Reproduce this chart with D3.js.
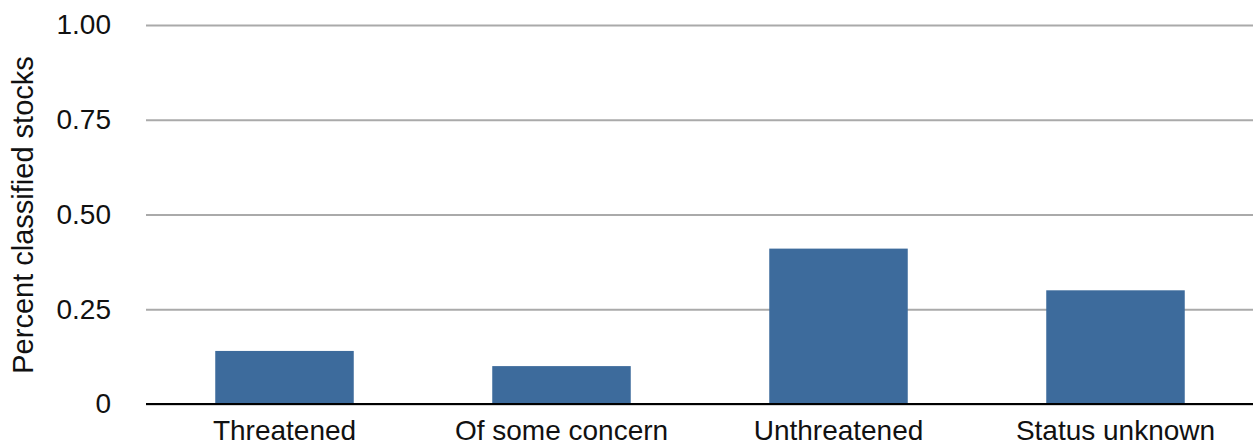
<!DOCTYPE html>
<html>
<head>
<meta charset="utf-8">
<script src="https://cdn.jsdelivr.net/npm/d3@7"></script>
<style>
  html, body { margin: 0; padding: 0; background: #fff; }
  svg text { font-family: "Liberation Sans", Arial, Helvetica, sans-serif; fill: #111; }
</style>
</head>
<body>
<svg id="chart" width="1253" height="446"></svg>
<script>
// Share of classified stocks by status
const categories = ["Threatened", "Of some concern", "Unthreatened", "Status unknown"];
const shares = [0.14, 0.10, 0.41, 0.30];
const tickValues = [0, 0.25, 0.5, 0.75, 1.0];
const tickLabels = ["0", "0.25", "0.50", "0.75", "1.00"];

const svg = d3.select("#chart");
const margin = { left: 146, right: 0 };
const W = 1253;

const x = d3.scaleBand()
  .domain(categories)
  .range([margin.left, W - margin.right + 1])
  .paddingInner(0.5)
  .paddingOuter(0.25);

const y = d3.scaleLinear()
  .domain([0, 1])
  .range([404, 25]);

// horizontal grid lines with tick labels
const yAxis = d3.axisLeft(y)
  .tickValues(tickValues)
  .tickFormat((d, i) => tickLabels[i])
  .tickSize(-(W - margin.left))
  .tickPadding(35);

const gy = svg.append("g")
  .attr("transform", `translate(${margin.left},0)`)
  .call(yAxis);
gy.select(".domain").remove();
gy.selectAll(".tick line").attr("stroke", "#aaa").attr("stroke-width", 2);
gy.selectAll(".tick text")
  .attr("font-size", 28)
  .attr("fill", "#111");

// bars
svg.append("g")
  .selectAll("rect")
  .data(categories)
  .join("rect")
  .attr("x", d => x(d))
  .attr("width", x.bandwidth())
  .attr("y", (d, i) => y(shares[i]))
  .attr("height", (d, i) => y(0) - y(shares[i]))
  .attr("fill", "#3d6b9c");

// baseline
svg.append("line")
  .attr("x1", margin.left).attr("x2", W)
  .attr("y1", y(0)).attr("y2", y(0))
  .attr("stroke", "#000").attr("stroke-width", 2);

// category labels
const xAxis = d3.axisBottom(x).tickSize(0).tickPadding(16);
const gx = svg.append("g")
  .attr("transform", `translate(0,${y(0)})`)
  .call(xAxis);
gx.select(".domain").remove();
gx.selectAll(".tick text")
  .attr("font-size", 28)
  .attr("fill", "#111");

// y-axis title
svg.append("text")
  .attr("transform", `translate(33,${(53 + 377) / 2}) rotate(-90)`)
  .attr("text-anchor", "middle")
  .attr("font-size", 29)
  .text("Percent classified stocks");
</script>
</body>
</html>
